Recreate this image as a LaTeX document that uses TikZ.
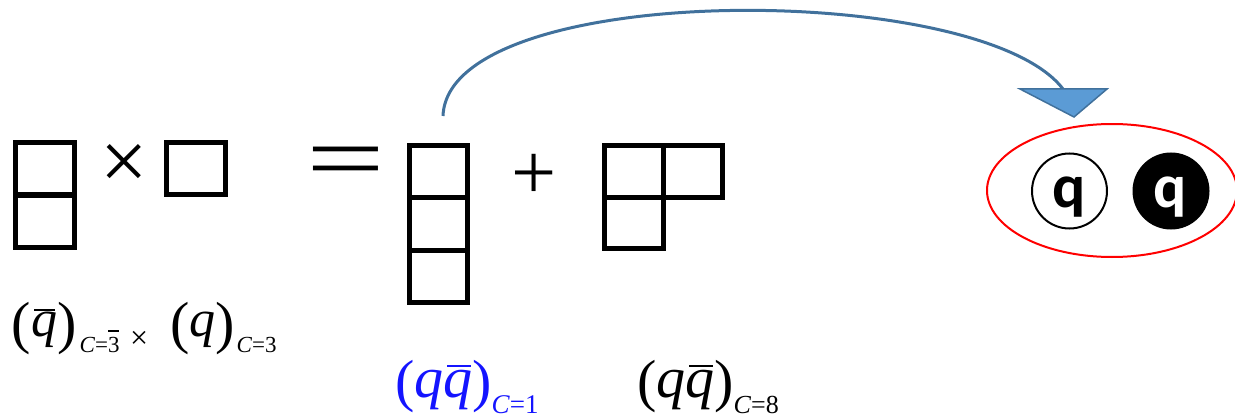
\documentclass[tikz,border=0pt]{standalone}
\usepackage{fontspec}
\usepackage{graphicx}
\setmainfont{Liberation Serif}
\newfontfamily\qfont{Carlito}
\usetikzlibrary{shapes.geometric}
\definecolor{arcblue}{HTML}{41719C}
\definecolor{trifill}{HTML}{5B9BD5}
\definecolor{lblblue}{RGB}{20,20,255}
% overline helper: #1 hshift, #2 raise, #3 width, #4 thickness
\newcommand{\ob}[4]{\leavevmode\rlap{\hskip#1\rule[#2]{#3}{#4}}}
\newcommand{\fs}[1]{\fontsize{#1}{#1}\selectfont}
\tikzset{
  cell/.style={draw, line width=5pt, minimum width=59pt, minimum height=52.5pt, inner sep=0pt, outer sep=0pt},
  opsym/.style={inner sep=0pt, outer sep=0pt},
  lbl/.style={inner sep=0pt, outer sep=0pt, anchor=base west},
  arc/.style={draw=arcblue, line width=3pt},
  tri/.style={fill=trifill, draw=arcblue, line width=1.5pt, line join=miter},
  qcirc/.style={circle, draw, line width=2pt, minimum size=75pt, inner sep=0pt},
  qtxt/.style={inner sep=0pt, anchor=base, font=\qfont\bfseries\fs{62}},
}
\begin{document}
\begin{tikzpicture}[x=1pt, y=-1pt]
\useasboundingbox (0,0) rectangle (1235,420);
\clip (0,0) rectangle (1235,420);
% left column (antiquark)
\node[cell] (a1) at (45,168.5) {};
\node[cell] (a2) at (45,221.5) {};
% times
\node[opsym] (times) at (124,166.5) {\fs{84}×};
% single box (quark)
\node[cell, minimum height=52pt] (b1) at (196,168.5) {};
% equals
\node[opsym] (eq) at (346,168.5) {\scalebox{1.47}[1]{\fs{95}=}};
% middle column (singlet)
\node[cell, minimum width=58pt, minimum height=52.3pt] (c1) at (438.5,171.7) {};
\node[cell, minimum width=58pt, minimum height=52.3pt] (c2) at (438.5,224) {};
\node[cell, minimum width=58pt, minimum height=52.3pt] (c3) at (438.5,276.3) {};
% plus
\node[opsym] (plus) at (534,177) {\fs{80}+};
% octet tableau
\node[cell, minimum height=51.5pt] (d1) at (634,171.25) {};
\node[cell, minimum height=51.5pt] (d2) at (693,171.25) {};
\node[cell, minimum height=51.5pt] (d3) at (634,222.75) {};
% labels
\node[lbl] (lA) at (12,336) {\raisebox{-6pt}{\fs{58}(}\fs{52}\ob{3pt}{25pt}{21pt}{2pt}\textit{q}\raisebox{-6pt}{\fs{58})}\hskip3pt\raisebox{-16pt}{\fs{23}\textit{C}=\ob{0pt}{20pt}{11pt}{1.6pt}3}};
\node[lbl] (lx) at (130,348) {\fs{32}×};
\node[lbl] (lB) at (170,336) {\raisebox{-6pt}{\fs{58}(}\fs{52}\textit{q}\raisebox{-6pt}{\fs{58})}\hskip2pt\raisebox{-16pt}{\fs{23}\textit{C}=3}};
\node[lbl, text=lblblue] (lC) at (395,397) {\raisebox{-3pt}{\fs{58}(}\fs{58}\textit{q}\ob{4pt}{30pt}{24pt}{2.5pt}\textit{q}\raisebox{-3pt}{\fs{58})}\raisebox{-16pt}{\fs{27}\textit{C}=1}};
\node[lbl] (lD) at (637,397) {\raisebox{-3pt}{\fs{58}(}\fs{58}\textit{q}\ob{4pt}{30pt}{24pt}{2.5pt}\textit{q}\raisebox{-3pt}{\fs{58})}\raisebox{-16pt}{\fs{26}\textit{C}=8}};
% arrow
\coordinate (arcstart) at (443,116);
\coordinate (arcend) at (1063,89);
\coordinate (triL) at (1020,89);
\coordinate (triR) at (1107,89);
\coordinate (triT) at (1074,117);
\draw[arc] (arcstart) .. controls (448,-20) and (980,-20) .. (arcend);
\filldraw[tri] (triL) -- (triR) -- (triT) -- cycle;
% meson ellipse
\node[ellipse, draw=red, line width=2pt, minimum width=250pt, minimum height=133pt, inner sep=0pt] (ell) at (1112,190.5) {};
\node[qcirc] (qc1) at (1069.5,191) {};
\node[qcirc, fill=black] (qc2) at (1171,191) {};
\node[qtxt] (qt1) at (1069.5,207) {q};
\node[qtxt, text=white] (qt2) at (1170.5,207) {q};
\end{tikzpicture}
\end{document}
